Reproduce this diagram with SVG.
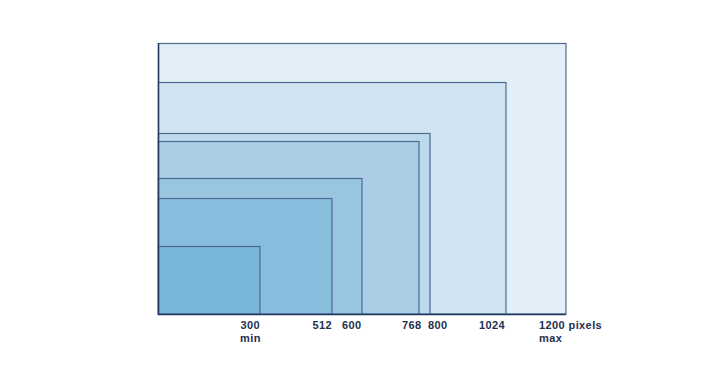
<svg xmlns="http://www.w3.org/2000/svg" width="705" height="389" viewBox="0 0 705 389">
<style>
.r{stroke:#4f6a92;stroke-width:1.2;}
.t{font-family:"Liberation Sans",Arial,sans-serif;font-weight:bold;font-size:11px;letter-spacing:0.4px;fill:#1f3050;}
</style>
<rect width="705" height="389" fill="#ffffff"/>
<g id="r1200"><rect class="r" x="158.5" y="43.5" width="407.5" height="270.5" fill="#e3eff8"/></g>
<g id="r1024"><rect class="r" x="158.5" y="82.5" width="347.5" height="231.5" fill="#cfe3f1"/></g>
<g id="r800"><rect class="r" x="158.5" y="133.5" width="271.5" height="180.5" fill="#bddaed"/></g>
<g id="r768"><rect class="r" x="158.5" y="141.5" width="260.5" height="172.5" fill="#a9cee6"/></g>
<g id="r600"><rect class="r" x="158.5" y="178.5" width="203.5" height="135.5" fill="#98c6e1"/></g>
<g id="r512"><rect class="r" x="158.5" y="198.5" width="173.5" height="115.5" fill="#88bedd"/></g>
<g id="r300"><rect class="r" x="158.5" y="246.5" width="101.5" height="67.5" fill="#78b5d8"/></g>
<g id="axes"><path d="M158.5 43 V314.5 H566" fill="none" stroke="#1f3a5f" stroke-width="1.5"/></g>
<g id="labels">
<text class="t" x="240.5" y="329">300</text>
<text class="t" x="240" y="342">min</text>
<text class="t" x="312.5" y="329">512</text>
<text class="t" x="342" y="329">600</text>
<text class="t" x="402" y="329">768</text>
<text class="t" x="428" y="329">800</text>
<text class="t" x="479" y="329">1024</text>
<text class="t" x="539" y="329">1200 pixels</text>
<text class="t" x="539" y="342">max</text>
</g>
</svg>
